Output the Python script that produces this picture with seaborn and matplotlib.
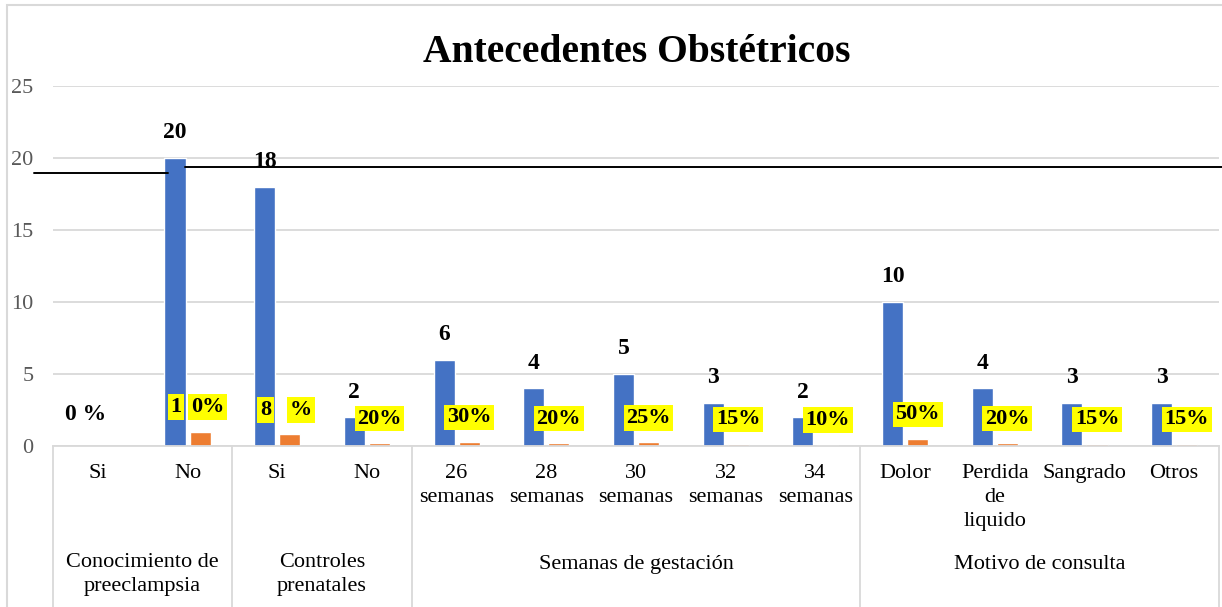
import numpy as np
import pandas as pd
import seaborn as sns
import matplotlib
matplotlib.use("Agg")
import matplotlib.pyplot as plt
import matplotlib.transforms as mtransforms
from matplotlib.lines import Line2D
from matplotlib.patches import Rectangle

# ---------------- data ----------------
title = "Antecedentes Obstétricos"
groups = ["Conocimiento de\npreeclampsia", "Controles\nprenatales",
          "Semanas de gestación", "Motivo de consulta"]
group_sizes = [2, 2, 5, 4]
categories = ["Si", "No", "Si", "No",
              "26\nsemanas", "28\nsemanas", "30\nsemanas", "32\nsemanas", "34\nsemanas",
              "Dolor", "Perdida\nde\nliquido", "Sangrado", "Otros"]
counts = [0, 20, 18, 2, 6, 4, 5, 3, 2, 10, 4, 3, 3]
shares = [0, 1.0, 0.8, 0.2, 0.3, 0.2, 0.25, 0.15, 0.1, 0.5, 0.2, 0.15, 0.15]
count_labels = ["0 %", "20", "18", "2", "6", "4", "5", "3", "2", "10", "4", "3", "3"]
share_labels = ["", "1 0%", "8  %", "20%", "30%", "20%", "25%", "15%", "10%",
                "50%", "20%", "15%", "15%"]
series = ["Frecuencia", "Porcentaje"]
yticks = [0, 5, 10, 15, 20, 25]

BLUE = "#4472C4"
ORANGE = "#ED7D31"
GRID = "#D9D9D9"
TICK = "#595959"

sns.set_theme(style="white")
plt.rcParams["font.family"] = ["Liberation Serif", "DejaVu Serif"]
plt.rcParams["text.color"] = "black"

keys = [f"c{i}" for i in range(len(categories))]
df = pd.DataFrame({
    "key": keys * 2,
    "value": counts + shares,
    "serie": [series[0]] * len(keys) + [series[1]] * len(keys),
})

W, H = 1222, 607
fig = plt.figure(figsize=(W / 100, H / 100), dpi=100)
ax_left, ax_right, ax_bottom, ax_top = 53, 1219, 446, 86
ax = fig.add_axes([ax_left / W, 1 - ax_bottom / H, (ax_right - ax_left) / W,
                   (ax_bottom - ax_top) / H])

sns.barplot(data=df, x="key", y="value", hue="serie", order=keys,
            hue_order=series, palette=[BLUE, ORANGE], saturation=1,
            width=0.56, gap=0.16, legend=False, ax=ax, errorbar=None)

ax.set_ylim(0, 25)
ax.set_xlim(-0.5, len(keys) - 0.5)
ax.set_yticks(yticks)
ax.set_yticklabels([str(t) for t in yticks], color=TICK, fontsize=16)
ax.yaxis.grid(True, color=GRID, lw=1.3)
ax.set_axisbelow(True)
for s in ["left", "right", "top"]:
    ax.spines[s].set_visible(False)
ax.spines["bottom"].set_color(GRID)
ax.spines["bottom"].set_linewidth(1.3)
ax.tick_params(axis="y", length=0, pad=14)
ax.set_xticks(range(len(keys)))
ax.set_xticklabels(categories, fontsize=16, color="black", linespacing=1.35)
ax.tick_params(axis="x", length=0, pad=13)
ax.set_xlabel("")
ax.set_ylabel("")

blend = mtransforms.blended_transform_factory(ax.transData, ax.transAxes)
axis_h = ax_bottom - ax_top
bottom_frac = -(H - ax_bottom) / axis_h

# group labels & separators
start = 0
bounds = [-0.5]
for g, n in zip(groups, group_sizes):
    center = start + (n - 1) / 2
    top_px = 555 if "\n" not in g else 553
    ax.text(center, -(top_px - ax_bottom) / axis_h, g, transform=blend,
            ha="center", va="top", fontsize=16, linespacing=1.35, color="black")
    start += n
    bounds.append(start - 0.5)
for b in bounds:
    ax.add_line(Line2D([b, b], [0, bottom_frac], transform=blend, color=GRID,
                       lw=1.3, clip_on=False))

# count labels
for bar, v, lbl in zip(ax.containers[0], counts, count_labels):
    cx = bar.get_x() + bar.get_width() / 2
    y = v + 1.75 if v > 0 else 2.2
    ax.text(cx, y, lbl, ha="center", va="center", fontsize=17,
            fontweight="bold", color="black")

# share labels with yellow highlight
hl = dict(boxstyle="square,pad=0.12", facecolor="#FFFF00", edgecolor="none")
for bar, v, lbl in zip(ax.containers[1], shares, share_labels):
    if not lbl:
        continue
    cx = bar.get_x() + bar.get_width() / 2
    y = v + 1.7
    parts = lbl.split(" ")
    if len(parts) == 1:
        ax.text(cx, y, lbl, ha="center", va="center", fontsize=16,
                fontweight="bold", bbox=hl, zorder=5, color="black")
    else:
        nsp = len(parts) - 1
        left, right = parts[0], parts[-1]
        edge = bar.get_x() - 0.09
        ax.text(edge, y, left, ha="right", va="center", fontsize=16,
                fontweight="bold", bbox=hl, zorder=5, color="black")
        ax.text(edge + 0.105 * nsp, y, right, ha="left", va="center",
                fontsize=16, fontweight="bold", bbox=hl, zorder=5, color="black")

# title
fig.text(637 / W, 1 - 53 / H, title, ha="center", va="center", fontsize=28.5,
         fontweight="bold", color="black")

# chart border
fig.add_artist(Rectangle((7 / W, -0.02), 1.0, 1 - 5 / H + 0.02,
                         transform=fig.transFigure, fill=False,
                         edgecolor=GRID, lw=1.5))
# stray connector lines in the original
fig.add_artist(Line2D([34 / W, 168 / W], [1 - 172.7 / H] * 2,
                      transform=fig.transFigure, color="black", lw=1.4))
fig.add_artist(Line2D([185 / W, 1.0], [1 - 167 / H] * 2,
                      transform=fig.transFigure, color="black", lw=1.4))

fig.savefig("out.png", dpi=100)
